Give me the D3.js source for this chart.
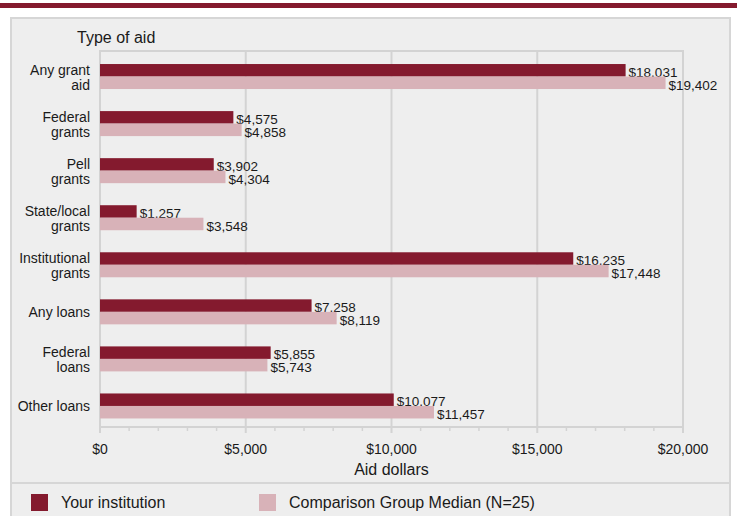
<!DOCTYPE html>
<html>
<head>
<meta charset="utf-8">
<script src="https://cdn.jsdelivr.net/npm/d3@7"></script>
<style>
  body { margin: 0; background: #fff; }
  svg { display: block; font-family: "Liberation Sans", Arial, sans-serif; }
</style>
</head>
<body>
<div id="chart"></div>
<script>
// Aid dollars by type of aid
const categories = [
    ['Any grant', 'aid'],
    ['Federal', 'grants'],
    ['Pell', 'grants'],
    ['State/local', 'grants'],
    ['Institutional', 'grants'],
    ['Any loans'],
    ['Federal', 'loans'],
    ['Other loans']
];
const yourInstitution = [18031, 4575, 3902, 1257, 16235, 7258, 5855, 10077];
const comparisonMedian = [19402, 4858, 4304, 3548, 17448, 8119, 5743, 11457];
const seriesNames = ['Your institution', 'Comparison Group Median (N=25)'];
const xTicks = [0, 5000, 10000, 15000, 20000];

const W = 737, H = 516;
const dark = '#841a2e', light = '#d8b2b8';
const grid = '#d3d3d3';
const ink = '#1a1a1a';

const svg = d3.select('#chart').append('svg')
    .attr('width', W)
    .attr('height', H);

// top stripe
svg.append('rect')
    .attr('x', 0).attr('y', 3)
    .attr('width', W).attr('height', 5)
    .attr('fill', dark);

// panel
svg.append('rect')
    .attr('x', 11).attr('y', 18)
    .attr('width', 719).attr('height', H)
    .attr('fill', '#eeeeee')
    .attr('stroke', '#d6d6d6')
    .attr('stroke-width', 2);

const plot = {left: 100, right: 683, top: 51, bottom: 427};

const x = d3.scaleLinear()
    .domain([0, 20000])
    .range([plot.left, plot.right]);

// bands sit a little below the plot frame
const y = d3.scaleBand()
    .domain(d3.range(categories.length))
    .range([plot.top + 2, plot.bottom + 2.5]);

const sub = d3.scaleBand()
    .domain([0, 1])
    .range([0, 25]);

// gridlines
svg.append('g')
    .selectAll('line')
    .data(xTicks)
    .join('line')
    .attr('x1', d => x(d)).attr('x2', d => x(d))
    .attr('y1', plot.top).attr('y2', plot.bottom)
    .attr('stroke', grid)
    .attr('stroke-width', 2);

svg.append('line')
    .attr('x1', plot.left - 1).attr('x2', plot.right + 1)
    .attr('y1', plot.top).attr('y2', plot.top)
    .attr('stroke', grid).attr('stroke-width', 2);

svg.append('line')
    .attr('x1', plot.left - 1).attr('x2', plot.right + 1)
    .attr('y1', plot.bottom).attr('y2', plot.bottom)
    .attr('stroke', grid).attr('stroke-width', 2);

// axis
const axis = svg.append('g')
    .attr('transform', `translate(0,${plot.bottom})`);

axis.selectAll('line.minor')
    .data(d3.range(0, 20001, 1000))
    .join('line')
    .attr('class', 'minor')
    .attr('x1', d => x(d)).attr('x2', d => x(d))
    .attr('y1', 0)
    .attr('y2', d => d % 5000 === 0 ? 6 : 4)
    .attr('stroke', grid)
    .attr('stroke-width', d => d % 5000 === 0 ? 2 : 1.5);

axis.selectAll('text')
    .data(xTicks)
    .join('text')
    .attr('x', d => x(d))
    .attr('y', 27)
    .attr('text-anchor', 'middle')
    .style('font-size', '14px')
    .attr('fill', ink)
    .text(d => '$' + d3.format(',')(d));

svg.append('text')
    .attr('x', (plot.left + plot.right) / 2)
    .attr('y', 475)
    .attr('text-anchor', 'middle')
    .style('font-size', '16px')
    .attr('fill', ink)
    .text('Aid dollars');

svg.append('text')
    .attr('x', 77)
    .attr('y', 43)
    .style('font-size', '16px')
    .attr('fill', ink)
    .text('Type of aid');

// category labels
const catG = svg.append('g')
    .selectAll('text')
    .data(categories)
    .join('text')
    .attr('text-anchor', 'end')
    .style('font-size', '14px')
    .attr('fill', ink)
    .attr('transform', (d, i) => `translate(90,${y(i) + y.bandwidth() / 2})`);

catG.selectAll('tspan')
    .data(d => d.map((t, j) => ({t, j, n: d.length})))
    .join('tspan')
    .attr('x', 0)
    .attr('y', d => d.n === 1 ? 5 : (d.j === 0 ? -2 : 13))
    .text(d => d.t);

// bars
const series = [yourInstitution, comparisonMedian];
const colors = [dark, light];
const fmt = v => '$' + d3.format(',')(v);

series.forEach((vals, s) => {
    const top = i => y(i) + (y.bandwidth() - 25) / 2 + sub(s);
    svg.append('g')
        .selectAll('rect')
        .data(vals)
        .join('rect')
        .attr('x', x(0))
        .attr('y', (d, i) => top(i))
        .attr('width', d => x(d) - x(0))
        .attr('height', sub.bandwidth())
        .attr('fill', colors[s]);

    svg.append('g')
        .selectAll('text')
        .data(vals)
        .join('text')
        .attr('x', d => x(d) + 3)
        .attr('y', (d, i) => top(i) + sub.bandwidth() + 0.5)
        .style('font-size', '13.5px')
        .attr('fill', ink)
        .text(fmt);
});

// legend
svg.append('line')
    .attr('x1', 11).attr('x2', 730)
    .attr('y1', 483).attr('y2', 483)
    .attr('stroke', '#d6d6d6').attr('stroke-width', 2);

const legendX = [31, 259];
seriesNames.forEach((name, s) => {
    svg.append('rect')
        .attr('x', legendX[s]).attr('y', 494)
        .attr('width', 17).attr('height', 17)
        .attr('fill', colors[s]);
    svg.append('text')
        .attr('x', legendX[s] + 30).attr('y', 508)
        .style('font-size', '16px')
        .attr('fill', ink)
        .text(name);
});
</script>
</body>
</html>
